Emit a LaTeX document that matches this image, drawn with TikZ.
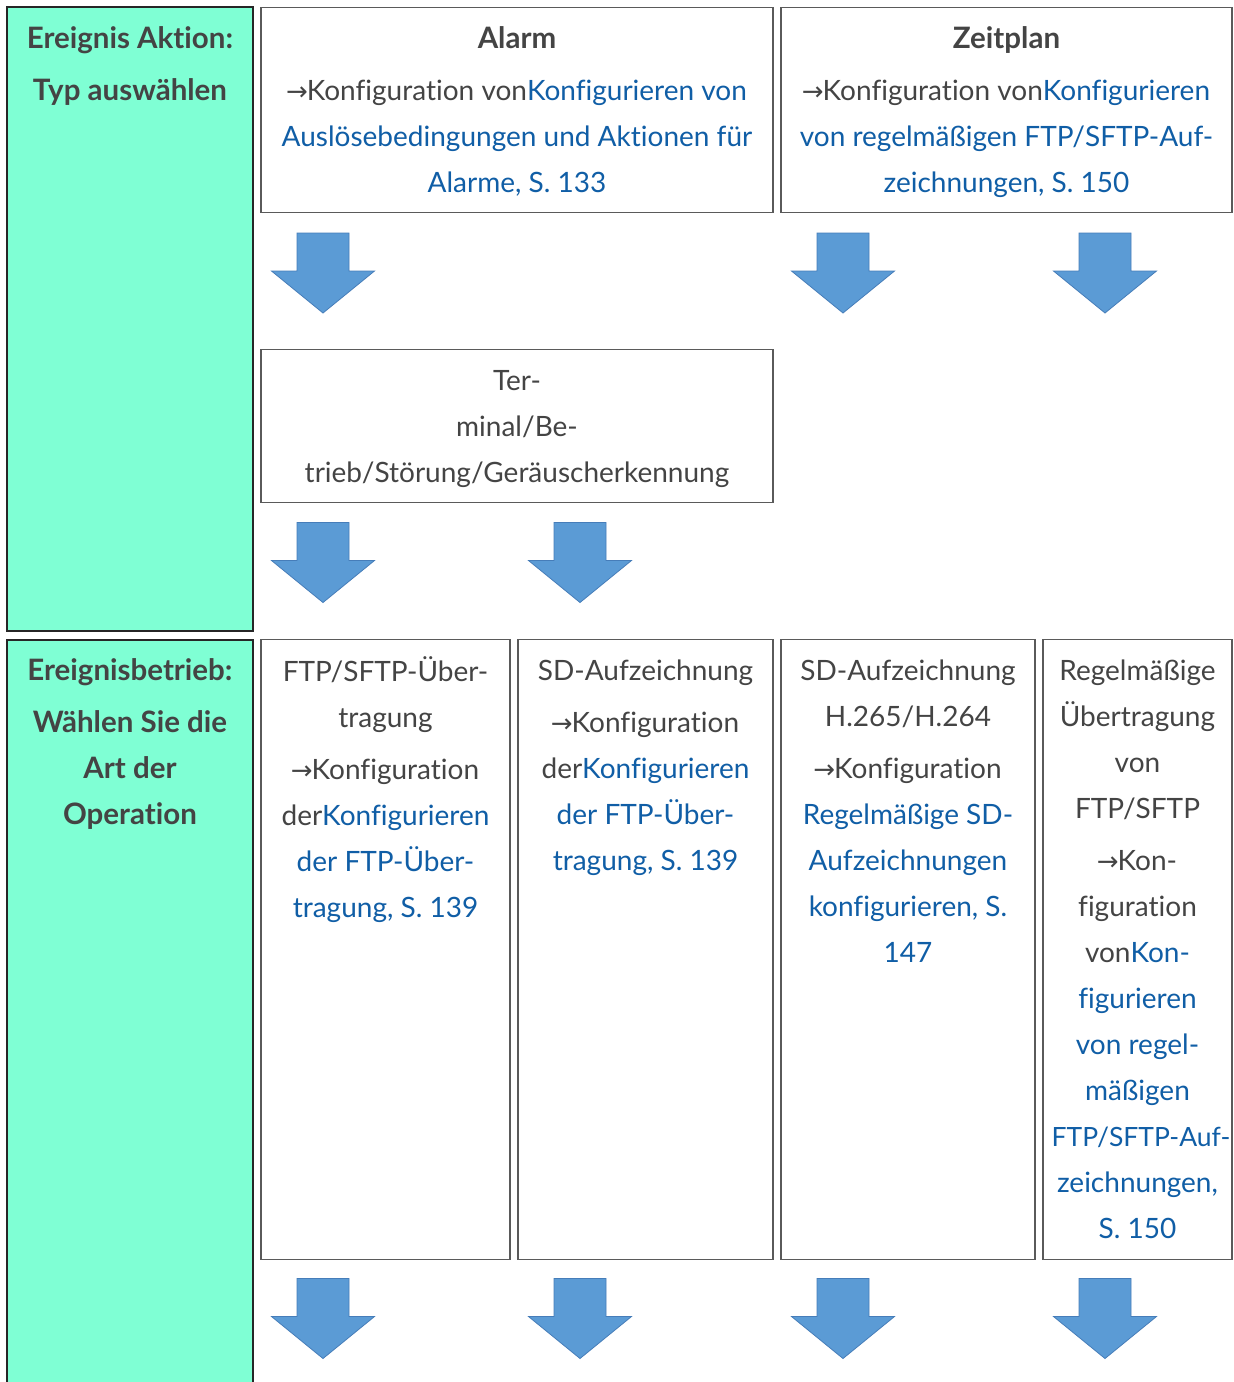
\documentclass[tikz,border=0pt]{standalone}
\usepackage{fontspec}
\setmainfont{Lato}[Ligatures=NoCommon]
\newfontfamily\symf{DejaVu Sans}
\definecolor{aqua}{RGB}{127,255,212}
\definecolor{boxgrey}{RGB}{90,90,90}
\definecolor{tgrey}{RGB}{68,68,68}
\definecolor{linkblue}{RGB}{16,94,166}
\definecolor{arrfill}{RGB}{91,155,213}
\definecolor{arrdraw}{RGB}{70,125,185}
\newcommand\blu[1]{\textcolor{linkblue}{#1}}
\newcommand\rarr{{\symf\fontsize{26}{46}\selectfont\kern-1pt→\kern-1pt}}
\newcommand\fsz{\fontsize{28}{46}\selectfont}
\newcommand\bt[1]{{\fontsize{29.5}{46}\selectfont\bfseries #1}}
\newcommand\st{\rule{0pt}{24pt}}
\begin{document}
\begin{tikzpicture}[x=1pt,y=-1pt,
  grp/.style={fill=aqua,draw=black!85,line width=2pt},
  box/.style={draw=boxgrey,line width=1.8pt,fill=white,anchor=north west,inner sep=0pt,outer sep=0pt},
  txt/.style={anchor=north,align=center,inner sep=0pt,text=tgrey,font=\fsz},
  arrowsty/.style={fill=arrfill,draw=arrdraw,line width=0.8pt,line join=miter},
  darrow/.pic={\path[arrowsty] (-26,0) -- (26,0) -- (26,38) -- (51.5,38) -- (0,80) -- (-51.5,38) -- (-26,38) -- cycle;}
]
\fill[white] (0,0) rectangle (1234,1382);
\useasboundingbox (0,0) rectangle (1234,1382);

% left group boxes
\path[grp] (7,7) rectangle (253,631);
\path[grp] (7,1395) -- (7,639.5) -- (253,639.5) -- (253,1395);
\node[txt] (g1) at (130,24) {\st\bt{Ereignis Aktion:}\\[6pt]\bt{Typ auswählen}};
\node[txt] (g2) at (130,656) {\st\bt{Ereignisbetrieb:}\\[6pt]\bt{Wählen Sie die}\\\bt{Art der}\\\bt{Operation}};

% top boxes
\node[box,minimum width=512,minimum height=205] (alarm) at (261,7.5) {};
\node[box,minimum width=451,minimum height=205] (zeit) at (781,7.5) {};
\node[txt] (alarmT) at (517,24) {\st\bt{Alarm}\\[6pt]\rarr Konfiguration von\blu{Konfigurieren von}\\\blu{Auslösebedingungen und Aktionen für}\\\blu{Alarme, S. 133}};
\node[txt] (zeitT) at (1006.5,24) {\st\bt{Zeitplan}\\[6pt]\rarr Konfiguration von\blu{Konfigurieren}\\\blu{von regelmäßigen FTP/SFTP-Auf-}\\\blu{zeichnungen, S. 150}};

% terminal box
\node[box,minimum width=512,minimum height=153] (term) at (261,349.5) {};
\node[txt] (termT) at (517,366) {\st Ter-\\minal/Be-\\trieb/Störung/Geräuscherkennung};

% bottom boxes
\node[box,minimum width=249,minimum height=620] (b1) at (261,639.5) {};
\node[box,minimum width=255,minimum height=620] (b2) at (518,639.5) {};
\node[box,minimum width=254,minimum height=620] (b3) at (781,639.5) {};
\node[box,minimum width=189,minimum height=620] (b4) at (1043,639.5) {};

\node[txt] (b1T) at (385.5,656) {\st FTP/SFTP-Über-\\tragung\\[6pt]\rarr Konfiguration\\der\blu{Konfigurieren}\\\blu{der FTP-Über-}\\\blu{tragung, S. 139}};
\node[txt] (b2T) at (645.5,656) {\st SD-Aufzeichnung\\[6pt]\rarr Konfiguration\\der\blu{Konfigurieren}\\\blu{der FTP-Über-}\\\blu{tragung, S. 139}};
\node[txt] (b3T) at (908,656) {\st SD-Aufzeichnung\\H.265/H.264\\[6pt]\rarr Konfiguration\\\blu{Regelmäßige SD-}\\\blu{Aufzeichnungen}\\\blu{konfigurieren, S.}\\\blu{147}};
\node[txt] (b4T) at (1137.5,656) {\st Regelmäßige\\Übertragung\\von\\FTP/SFTP\\[6pt]\rarr Kon-\\figuration\\von\blu{Kon-}\\\blu{figurieren}\\\blu{von regel-}\\\blu{mäßigen}\\\hspace*{7pt}\blu{\fontsize{26.5}{46}\selectfont FTP/SFTP-Auf-}\\\blu{zeichnungen,}\\\blu{S. 150}};

% arrows
\pic at (323,233) {darrow};
\pic at (843,233) {darrow};
\pic at (1105,233) {darrow};
\pic at (323,522.5) {darrow};
\pic at (580,522.5) {darrow};
\pic at (323,1278.5) {darrow};
\pic at (580,1278.5) {darrow};
\pic at (843,1278.5) {darrow};
\pic at (1105,1278.5) {darrow};
\end{tikzpicture}
\end{document}
